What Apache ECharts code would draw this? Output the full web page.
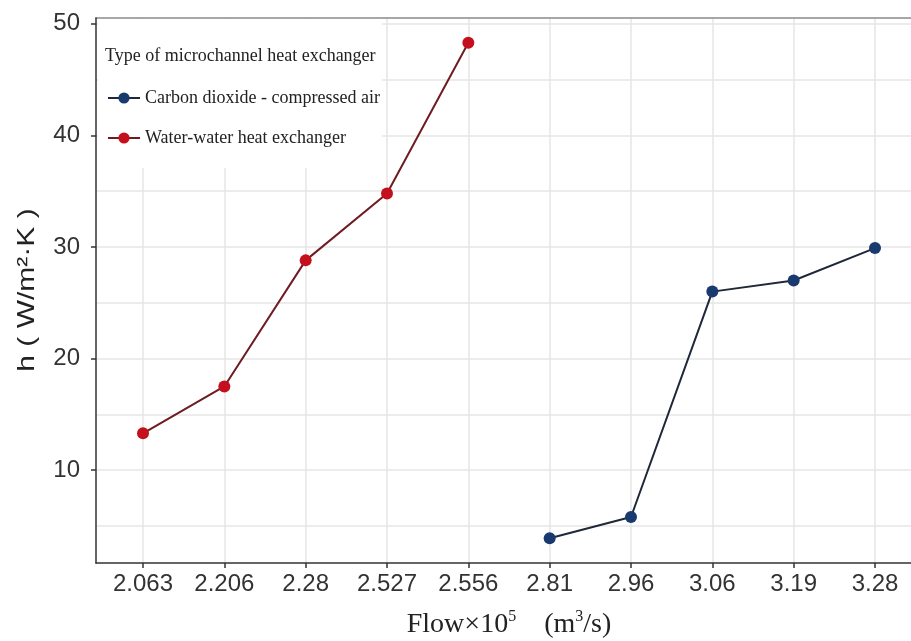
<!DOCTYPE html>
<html>
<head>
<meta charset="utf-8">
<script src="https://cdn.jsdelivr.net/npm/echarts@6/dist/echarts.min.js"></script>
<style>html,body{margin:0;padding:0;background:#fff}#c{width:911px;height:641px}</style>
</head>
<body>
<div id="c"></div>
<script>
const categories = ['2.063','2.206','2.28','2.527','2.556','2.81','2.96','3.06','3.19','3.28'];
const co2Values = [null,null,null,null,null,3.9,5.8,26.0,27.0,29.9];
const waterValues = [13.3,17.5,28.8,34.8,48.3,null,null,null,null,null];
const yTickLabels = [10,20,30,40,50];
const yGridValues = [5,10,15,20,25,30,35,40,45,50];
const yMin = 1.68, yMax = 50.52;
const seriesNames = ['Carbon dioxide - compressed air','Water-water heat exchanger'];
const legendTitle = 'Type of microchannel heat exchanger';

const chart = echarts.init(document.getElementById('c'));
const grid = '#e6e6e6';
const dark = '#333';
chart.setOption({
  animation:false,
  backgroundColor:'#fff',
  title:{text:legendTitle,left:105,top:47,padding:0,
    textStyle:{fontFamily:'Liberation Serif',fontSize:18,fontWeight:'normal',color:'#222'}},
  legend:{orient:'vertical',left:98,top:19,padding:[70,2,21,9],itemGap:22,
    itemWidth:32,itemHeight:14,backgroundColor:'#fff',
    data:seriesNames,
    textStyle:{fontFamily:'Liberation Serif',fontSize:18,color:'#222'}},
  grid:[
    {left:96,right:-13,top:18,bottom:78,outerBoundsMode:'none',containLabel:false},
    {left:143,right:36,top:18,bottom:78,outerBoundsMode:'none',containLabel:false}
  ],
  xAxis:[
    {gridIndex:0,type:'value',min:0,max:1,position:'bottom',
      axisLine:{show:true,lineStyle:{color:dark,width:1.5}},axisTick:{show:false},axisLabel:{show:false},splitLine:{show:false}},
    {gridIndex:0,type:'value',min:0,max:1,position:'top',
      axisLine:{show:true,lineStyle:{color:'#8a8a8a',width:1.5}},axisTick:{show:false},axisLabel:{show:false},splitLine:{show:false}},
    {gridIndex:1,type:'category',data:categories,boundaryGap:false,
      axisLine:{show:false},
      axisTick:{show:true,length:5,lineStyle:{color:dark,width:1.5}},
      axisLabel:{margin:9,fontFamily:'Liberation Sans',fontSize:24,color:'#333'},
      splitLine:{show:true,lineStyle:{color:grid,width:1.5}},
      name:'{n|Flow×10}{s|5}{n|    (m}{s|3}{n|/s)}',nameLocation:'middle',nameGap:46,
      nameTextStyle:{rich:{
        n:{fontFamily:'Liberation Serif',fontSize:28,color:'#222',lineHeight:32},
        s:{fontFamily:'Liberation Serif',fontSize:16,color:'#222',verticalAlign:'top',lineHeight:32}
      }}}
  ],
  yAxis:[
    {gridIndex:0,type:'value',min:yMin,max:yMax,z:5,
      axisLine:{show:true,lineStyle:{color:dark,width:1.5}},
      axisTick:{show:true,length:5,customValues:yTickLabels,lineStyle:{color:dark,width:1.5}},
      axisLabel:{customValues:yTickLabels,margin:16,fontFamily:'Liberation Sans',fontSize:24,color:'#333'},
      splitLine:{show:false}},
    {gridIndex:0,type:'value',min:yMin,max:yMax,
      axisLine:{show:false},
      axisTick:{show:false,customValues:yGridValues},
      axisLabel:{show:false,customValues:yGridValues},
      splitLine:{show:true,lineStyle:{color:grid,width:1.5}}},
    {gridIndex:1,type:'value',min:yMin,max:yMax,show:false}
  ],
  graphic:[
    {type:'text',x:27,y:290,rotation:Math.PI/2,scaleX:1.25,
      style:{text:'h ( W/m²·K )',font:'24px "Liberation Sans"',fill:'#222',align:'center',verticalAlign:'middle',textAlign:'center',textVerticalAlign:'middle'}}
  ],
  series:[
    {name:seriesNames[0],type:'line',xAxisIndex:2,yAxisIndex:2,data:co2Values,
      symbol:'circle',symbolSize:12,connectNulls:false,
      lineStyle:{color:'#1e2838',width:2},itemStyle:{color:'#183a6e'}},
    {name:seriesNames[1],type:'line',xAxisIndex:2,yAxisIndex:2,data:waterValues,
      symbol:'circle',symbolSize:12,connectNulls:false,
      lineStyle:{color:'#6e1c22',width:2},itemStyle:{color:'#c4101c'}}
  ]
});
</script>
</body>
</html>
